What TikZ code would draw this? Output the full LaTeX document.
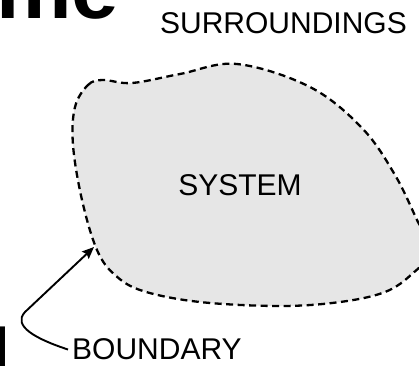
\documentclass[tikz,border=0pt]{standalone}
\usepackage{fontspec}
\setmainfont{Liberation Sans}
\usetikzlibrary{arrows.meta}
\definecolor{sysfill}{RGB}{230,230,230}
\begin{document}
\begin{tikzpicture}[x=1pt,y=-1pt,
  lbl/.style={font=\fontsize{30}{30}\selectfont, inner sep=0pt, text=black},
  big/.style={font=\fontsize{85}{85}\selectfont\bfseries, inner sep=0pt, anchor=base west},
  bnd/.style={draw=black, line width=2.3pt, dash pattern=on 7pt off 4.5pt, fill=sysfill},
  pointer/.style={draw=black, line width=1.9pt, -{Stealth[length=12pt,width=10pt,inset=2pt]}}]
\useasboundingbox (0,0) rectangle (419,365);
\clip (0,0) rectangle (419,365);
\fill[white] (0,0) rectangle (419,365);
% system blob
\path[bnd] plot[smooth cycle, tension=0.6] coordinates {
  (75,107) (88,85) (103,80) (132,83) (180,74) (237,64) (310,87) (362,128)
  (395,175) (418,222) (432,250) (412,274) (385,292) (340,302) (280,306)
  (200,302) (143,291) (115,275) (97,250) (82,200) (73,145)};
% title fragments
\node[big] (title1) at (-4,18) {me};
\node[big] (title2) at (-41,388) {d};
% labels
\node[lbl] (sys) at (240,185) {SYSTEM};
\node[lbl] (sur) at (283.5,23) {SURROUNDINGS};
\node[lbl, anchor=west] (bd) at (72,349.5) {BOUNDARY};
\coordinate (tip) at (94,247);
\draw[pointer] ([xshift=-4pt]bd.west) .. controls (36,339) and (12,326) .. (25,312) -- (tip);
\end{tikzpicture}
\end{document}
